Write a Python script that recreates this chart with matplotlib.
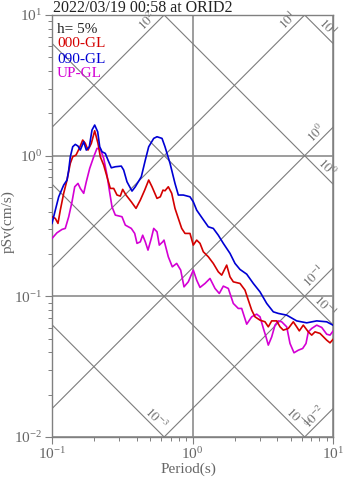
import numpy as np
import matplotlib
matplotlib.use("Agg")
import matplotlib.pyplot as plt

plt.rcParams['font.family'] = 'serif'
plt.rcParams['font.serif'] = ['Liberation Serif', 'DejaVu Serif']
plt.rcParams['mathtext.fontset'] = 'stix'

title = "2022/03/19 00:58 at ORID2"
damping_label = "h= 5%"
series_names = ["000-GL", "090-GL", "UP-GL"]
series_colors = ["#d40000", "#0000d4", "#d400d4"]

# 000-GL
red_T = [0.100,0.1056,0.1103,0.1146,0.1211,0.1279,0.1350,0.1404,0.1482,0.1564,0.1654,0.1726,0.1804,0.1905,0.2013,0.2125,0.2207,0.2333,0.2463,0.2600,0.2749,0.2902,0.3063,0.3185,0.3363,0.3667,0.3962,0.4251,0.4568,0.4878,0.5150,0.5590,0.5900,0.6166,0.6372,0.6727,0.7112,0.7505,0.7928,0.8377,0.8844,0.9598,1.013,1.071,1.131,1.194,1.296,1.406,1.526,1.614,1.751,1.849,1.952,2.178,2.364,2.496,2.638,2.785,3.023,3.281,3.463,3.662,3.975,4.196,4.430,4.808,5.216,5.515,5.757,6.146,6.672,7.054,7.446,8.083,9.02,9.52,10.0]
red_V = [0.368,0.358,0.330,0.410,0.540,0.671,0.882,0.982,1.010,1.127,1.291,1.223,1.096,1.223,1.503,1.223,0.982,0.857,0.708,0.585,0.585,0.525,0.516,0.576,0.525,0.470,0.422,0.483,0.569,0.671,0.601,0.497,0.510,0.569,0.563,0.601,0.540,0.422,0.358,0.304,0.280,0.280,0.2313,0.251,0.238,0.2073,0.191,0.1714,0.1494,0.1415,0.1667,0.1376,0.1268,0.1235,0.1107,0.0940,0.0798,0.0715,0.0677,0.0659,0.0607,0.0669,0.0669,0.0607,0.0575,0.0591,0.0659,0.0607,0.0568,0.0624,0.0559,0.0530,0.0559,0.0545,0.0488,0.0467,0.0494]

# 090-GL
blue_T = [0.100,0.1056,0.1116,0.1211,0.1279,0.1315,0.1350,0.1404,0.1465,0.1531,0.1590,0.1681,0.1754,0.1843,0.1926,0.2013,0.2114,0.2186,0.2270,0.2395,0.2504,0.2643,0.2822,0.3113,0.3237,0.3418,0.3710,0.3916,0.4321,0.4614,0.4878,0.5297,0.5590,0.6067,0.6372,0.6919,0.7505,0.7928,0.8600,0.9598,1.013,1.071,1.163,1.296,1.406,1.526,1.657,1.849,2.007,2.178,2.431,2.709,3.023,3.375,3.759,4.080,4.683,5.515,6.500,7.656,9.02,10.0]
blue_V = [0.330,0.410,0.510,0.618,0.671,0.790,0.982,1.157,1.203,1.170,1.096,1.256,1.096,1.157,1.521,1.651,1.479,1.157,1.066,1.038,0.930,0.820,0.834,0.843,0.790,0.652,0.560,0.601,0.708,0.930,1.157,1.327,1.363,1.327,1.157,0.882,0.635,0.525,0.525,0.510,0.470,0.410,0.364,0.312,0.304,0.272,0.238,0.202,0.1714,0.1553,0.1438,0.1235,0.1076,0.0890,0.0776,0.0756,0.0735,0.0669,0.0648,0.0669,0.0659,0.0624]

# UP-GL
mag_T = [0.100,0.1085,0.1178,0.1243,0.1315,0.1388,0.1451,0.1531,0.1590,0.1681,0.1754,0.1855,0.1981,0.2091,0.2207,0.2333,0.2463,0.2558,0.2673,0.2822,0.3149,0.3324,0.3667,0.3878,0.4027,0.4251,0.4421,0.4614,0.4822,0.5089,0.5297,0.5590,0.5804,0.6137,0.6268,0.6727,0.7182,0.7718,0.8241,0.8700,0.9335,1.013,1.071,1.131,1.228,1.332,1.446,1.551,1.657,1.798,1.952,2.118,2.239,2.431,2.638,2.864,3.023,3.191,3.335,3.463,3.662,3.865,4.080,4.314,4.683,4.943,5.278,5.662,6.084,6.424,6.672,7.054,7.656,8.31,9.02,9.52,10.0]
mag_V = [0.258,0.283,0.299,0.304,0.368,0.470,0.601,0.635,0.585,0.540,0.652,0.812,0.982,1.127,1.114,0.957,0.728,0.569,0.433,0.378,0.368,0.321,0.304,0.280,0.238,0.244,0.272,0.244,0.2131,0.258,0.304,0.2876,0.2313,0.244,0.251,0.191,0.1621,0.1714,0.1536,0.1168,0.1268,0.1536,0.1303,0.1157,0.1235,0.1340,0.1138,0.1048,0.1182,0.1138,0.0890,0.0820,0.0820,0.0634,0.0715,0.0747,0.0715,0.0594,0.0515,0.0450,0.0515,0.0624,0.0669,0.0659,0.0607,0.0462,0.0397,0.0414,0.0426,0.0462,0.0559,0.0591,0.0624,0.0601,0.0538,0.0530,0.0566]

# tripartite reference levels
sd_levels = [10, 1, 0.1, 0.01, 0.001]          # displacement (cm)
sd_labels = [r'$10^{1}$', r'$10^{0}$', r'$10^{-1}$', r'$10^{-3}$', r'$10^{-3}$']
sa_levels = [100, 10, 1, 0.1, 0.01]            # acceleration (cm/s2)
sa_labels = [r'$10^{2}$', r'$10^{1}$', r'$10^{0}$', r'$10^{-1}$', r'$10^{-2}$']

xlim = (0.1, 10)
ylim = (0.01, 10)

fig = plt.figure(figsize=(3.47, 4.78), dpi=100)
ax = fig.add_axes([52/347, 1-437/478, 281/347, 422/478])
ax.set_xscale('log')
ax.set_yscale('log')
ax.set_xlim(*xlim)
ax.set_ylim(*ylim)

diag_col = '#7c7c7c'
Tg = np.logspace(-1, 1, 300)
for lev in sd_levels:
    ax.plot(Tg, 2*np.pi*lev/Tg, color=diag_col, lw=0.8, zorder=1)
for lev in sa_levels:
    ax.plot(Tg, lev*Tg/(2*np.pi), color=diag_col, lw=0.8, zorder=1)

d = 0.03
for lev, lab in zip(sa_levels, sa_labels):
    c = np.log10(lev/(2*np.pi))
    if c + 1 <= 1:
        lx, ly = 1.0, c + 1
    else:
        lx, ly = 1 - c, 1.0
    ax.text(10**(lx-d), 10**(ly-d), lab, rotation=45, rotation_mode='anchor',
            ha='right', va='bottom', fontsize=9.5, color='#707070', zorder=2)
for lev, lab in zip(sd_levels, sd_labels):
    c = np.log10(2*np.pi*lev)
    if c - 1 >= -2:
        lx, ly = 1.0, c - 1
    else:
        lx, ly = c + 2, -2.0
    ax.text(10**(lx-d), 10**(ly+d), lab, rotation=-45, rotation_mode='anchor',
            ha='right', va='bottom', fontsize=9.5, color='#707070', zorder=2)

ax.grid(True, which='major', color='#8c8c8c', lw=1.2, zorder=1.5)
ax.set_axisbelow(True)

ax.plot(mag_T, mag_V, color=series_colors[2], lw=1.2, zorder=3)
ax.plot(red_T, red_V, color=series_colors[0], lw=1.2, zorder=4)
ax.plot(blue_T, blue_V, color=series_colors[1], lw=1.2, zorder=5)

for s in ax.spines.values():
    s.set_color('#808080')
    s.set_linewidth(1.0)
ax.tick_params(which='both', direction='out', color='#808080', labelcolor='#666666',
               top=False, right=False, labelsize=11)
ax.tick_params(which='major', length=5, width=0.8)
ax.tick_params(which='minor', length=3, width=0.7)
ax.tick_params(axis='y', pad=2)
ax.tick_params(axis='x', pad=1.5)

tx = 0.018
ys = [0.9668, 0.9313, 0.8957, 0.8614]
ax.text(tx, ys[0], damping_label, transform=ax.transAxes, fontsize=11,
        color='#222222', va='center', ha='left', zorder=6)
for y, name, col in zip(ys[1:], series_names, series_colors):
    ax.text(tx, y, name, transform=ax.transAxes, fontsize=11, color=col,
            va='center', ha='left', zorder=6)

fig.text(53/347, 1-12/478, title, fontsize=11.5, color='#222222', ha='left', va='baseline')
fig.text(8/347, 1-222/478, 'pSv(cm/s)', rotation=90, fontsize=11, color='#666666',
         ha='center', va='center')
fig.text(188/347, 1-469/478, 'Period(s)', fontsize=11, color='#666666',
         ha='center', va='center')

fig.savefig('out.png', dpi=100)
